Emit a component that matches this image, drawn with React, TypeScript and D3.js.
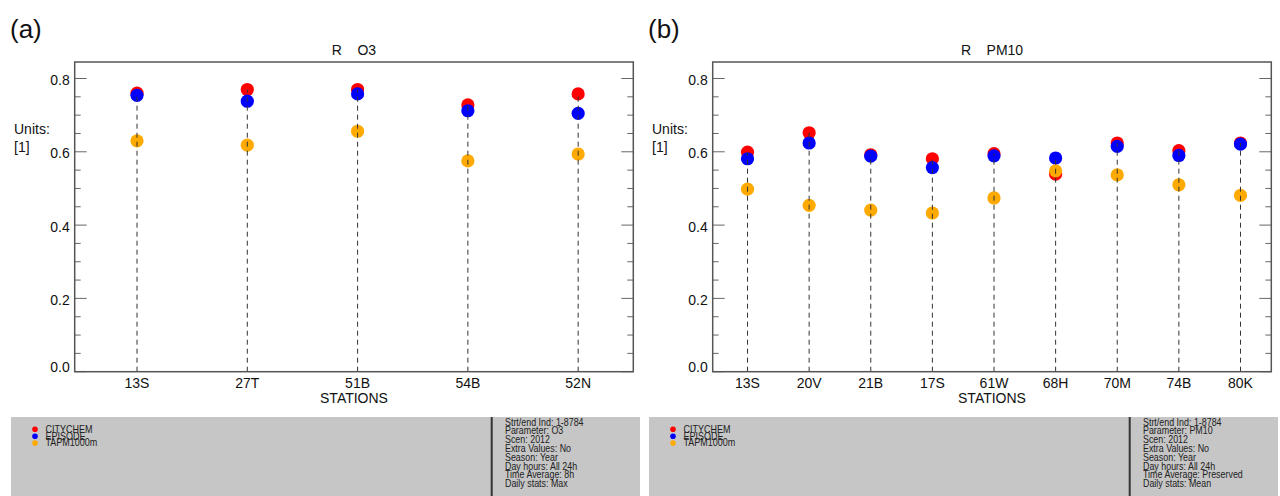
import React from "react";
import * as d3 from "d3";

const stationsO3 = ["13S", "27T", "51B", "54B", "52N"];
const citychemO3 = [0.76, 0.77, 0.77, 0.728, 0.758];
const episodeO3 = [0.754, 0.738, 0.758, 0.712, 0.705];
const tapmO3 = [0.63, 0.618, 0.656, 0.575, 0.594];

const stationsPM10 = ["13S", "20V", "21B", "17S", "61W", "68H", "70M", "74B", "80K"];
const citychemPM10 = [0.599, 0.652, 0.592, 0.581, 0.595, 0.539, 0.624, 0.603, 0.624];
const episodePM10 = [0.581, 0.624, 0.588, 0.557, 0.589, 0.583, 0.615, 0.59, 0.621];
const tapmPM10 = [0.498, 0.454, 0.441, 0.433, 0.474, 0.548, 0.537, 0.51, 0.481];

const yMajorTicks = [0, 0.2, 0.4, 0.6, 0.8];
const yMinorTicks = [0.05, 0.1, 0.15, 0.25, 0.3, 0.35, 0.45, 0.5, 0.55, 0.65, 0.7, 0.75];

const seriesNames = ["CITYCHEM", "EPISODE", "TAPM1000m"];
const seriesColors = ["#ff0000", "#0000ff", "#ffaa00"];

const infoO3 = [
  "Strt/end Ind: 1-8784",
  "Parameter: O3",
  "Scen: 2012",
  "Extra Values: No",
  "Season: Year",
  "Day hours: All 24h",
  "Time Average: 8h",
  "Daily stats: Max",
];
const infoPM10 = [
  "Strt/end Ind: 1-8784",
  "Parameter: PM10",
  "Scen: 2012",
  "Extra Values: No",
  "Season: Year",
  "Day hours: All 24h",
  "Time Average: Preserved",
  "Daily stats: Mean",
];

const FONT = "Liberation Sans, Arial, sans-serif";

type PanelProps = {
  ox: number;
  tag: string;
  param: string;
  stations: string[];
  series: number[][];
  info: string[];
};

function Panel({ ox, tag, param, stations, series, info }: PanelProps) {
  const left = 74.7 + ox;
  const right = 633.3 + ox;
  const top = 62;
  const bottom = 371.7;
  const n = stations.length;
  const x = d3.scaleLinear().domain([-0.565, n - 0.5]).range([left, right]);
  const y = d3.scaleLinear().domain([0, 0.845]).range([bottom, top]);

  return (
    <g>
      <text x={10 + ox} y={38} fontFamily={FONT} fontSize={26} fill="#111">
        {tag}
      </text>
      <text
        x={(left + right) / 2}
        y={55}
        fontFamily={FONT}
        fontSize={14}
        textAnchor="middle"
        fill="#111"
        style={{ whiteSpace: "pre" }}
      >
        {"R    " + param}
      </text>
      <text x={14 + ox} y={134} fontFamily={FONT} fontSize={14} fill="#111">
        Units:
      </text>
      <text x={14 + ox} y={152} fontFamily={FONT} fontSize={14} fill="#111">
        [1]
      </text>

      {/* minor ticks */}
      {yMinorTicks.map((t) => (
        <g key={"mi" + t}>
          <line x1={left} x2={left + 6} y1={y(t)} y2={y(t)} stroke="#666" strokeWidth={1} />
          <line x1={right} x2={right - 6} y1={y(t)} y2={y(t)} stroke="#666" strokeWidth={1} />
        </g>
      ))}
      {yMajorTicks.map((t) => (
        <g key={"ma" + t}>
          <line x1={left} x2={left + 12} y1={y(t)} y2={y(t)} stroke="#666" strokeWidth={1} />
          <line x1={right} x2={right - 12} y1={y(t)} y2={y(t)} stroke="#666" strokeWidth={1} />
          <text
            x={left - 5}
            y={t === 0 ? y(t) : y(t) + 6.5}
            fontFamily={FONT}
            fontSize={14}
            textAnchor="end"
            fill="#111"
          >
            {d3.format(".1f")(t)}
          </text>
        </g>
      ))}

      {/* points */}
      {series.map((vals, si) =>
        vals.map((v, i) => (
          <circle key={"p" + si + "-" + i} cx={x(i)} cy={y(v)} r={6.6} fill={seriesColors[si]} />
        ))
      )}

      {/* dashed drop lines */}
      {stations.map((s, i) => {
        const mx = d3.max(series, (vals) => vals[i]) as number;
        return (
          <line
            key={"d" + s + i}
            x1={x(i)}
            x2={x(i)}
            y1={bottom}
            y2={y(mx)}
            stroke="#333"
            strokeWidth={1}
            strokeDasharray="5,4"
          />
        );
      })}

      {/* box */}
      <rect x={left} y={top} width={right - left} height={bottom - top} fill="none" stroke="#555" strokeWidth={1.5} />

      {/* x labels */}
      {stations.map((s, i) => (
        <text key={"xl" + s + i} x={x(i)} y={388} fontFamily={FONT} fontSize={14} textAnchor="middle" fill="#111">
          {s}
        </text>
      ))}
      <text x={(left + right) / 2} y={403} fontFamily={FONT} fontSize={14} textAnchor="middle" fill="#111">
        STATIONS
      </text>

      {/* bottom grey info panel */}
      <rect x={11 + ox} y={417} width={629} height={79} fill="#c6c6c6" />
      <line x1={491.7 + ox} x2={491.7 + ox} y1={417} y2={496} stroke="#333" strokeWidth={2} />
      {seriesNames.map((name, si) => (
        <g key={"lg" + si}>
          <circle cx={35 + ox} cy={429.3 + si * 6.9} r={2.8} fill={seriesColors[si]} />
          <text
            transform={`translate(${45.5 + ox},${433 + si * 6.5}) scale(0.9,1)`}
            fontFamily={FONT}
            fontSize={10}
            fill="#222"
          >
            {name}
          </text>
        </g>
      ))}
      {info.map((line, i) => (
        <text
          key={"in" + i}
          transform={`translate(${505 + ox},${425.5 + i * 8.8}) scale(0.89,1)`}
          fontFamily={FONT}
          fontSize={10}
          fill="#222"
        >
          {line}
        </text>
      ))}
    </g>
  );
}

export default function App() {
  return (
    <svg
      width={1280}
      height={496}
      style={{ position: "absolute", left: 0, top: 0, background: "#fff" }}
    >
      <rect x={0} y={0} width={1280} height={496} fill="#fff" />
      <Panel
        ox={0}
        tag="(a)"
        param="O3"
        stations={stationsO3}
        series={[citychemO3, episodeO3, tapmO3]}
        info={infoO3}
      />
      <Panel
        ox={638}
        tag="(b)"
        param="PM10"
        stations={stationsPM10}
        series={[citychemPM10, episodePM10, tapmPM10]}
        info={infoPM10}
      />
    </svg>
  );
}
